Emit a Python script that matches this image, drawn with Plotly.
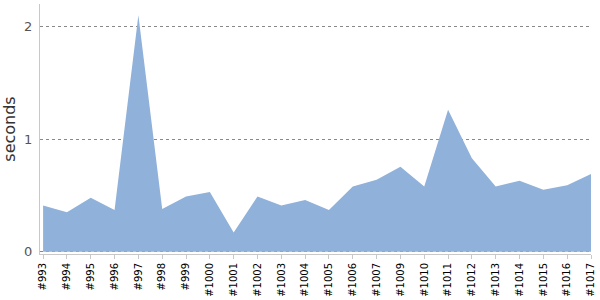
import plotly.graph_objects as go

categories = ["#993", "#994", "#995", "#996", "#997", "#998", "#999", "#1000",
              "#1001", "#1002", "#1003", "#1004", "#1005", "#1006", "#1007",
              "#1009", "#1010", "#1011", "#1012", "#1013", "#1014", "#1015",
              "#1016", "#1017"]
seconds = [0.41, 0.35, 0.48, 0.37, 2.10, 0.38, 0.49, 0.53,
           0.17, 0.49, 0.41, 0.46, 0.37, 0.58, 0.64,
           0.755, 0.58, 1.26, 0.83, 0.58, 0.63, 0.55,
           0.59, 0.69]
y_ticks = [0, 1, 2]

fig = go.Figure()
fig.add_trace(go.Scatter(
    x=categories, y=seconds, mode="lines", fill="tozeroy",
    fillcolor="#8fb1da", line=dict(width=0, color="#8fb1da"),
    hoverinfo="x+y", showlegend=False,
))

fig.update_layout(
    width=600, height=300,
    margin=dict(l=40, r=9, t=4, b=46),
    paper_bgcolor="white", plot_bgcolor="white",
    font=dict(family="DejaVu Sans"),
    xaxis=dict(
        type="category", categoryorder="array", categoryarray=categories,
        range=[-0.13, 23], tickangle=-90, automargin=False,
        tickfont=dict(size=10, color="#000000"),
        showline=True, linecolor="#c8c8c8", linewidth=1,
        ticks="outside", ticklen=4, tickcolor="#c8c8c8",
        showgrid=False, zeroline=False,
    ),
    yaxis=dict(
        range=[-0.02, 2.2], tickvals=y_ticks, automargin=False,
        tickfont=dict(size=13, color="#555555"),
        ticklabelstandoff=4,
        title=dict(text="seconds", font=dict(size=16, color="#333333")),
        showline=True, linecolor="#c8c8c8", linewidth=1,
        ticks="", showgrid=True, gridcolor="#888888", griddash="dot", gridwidth=1,
        zeroline=False,
    ),
)

fig.write_html("out.html")
